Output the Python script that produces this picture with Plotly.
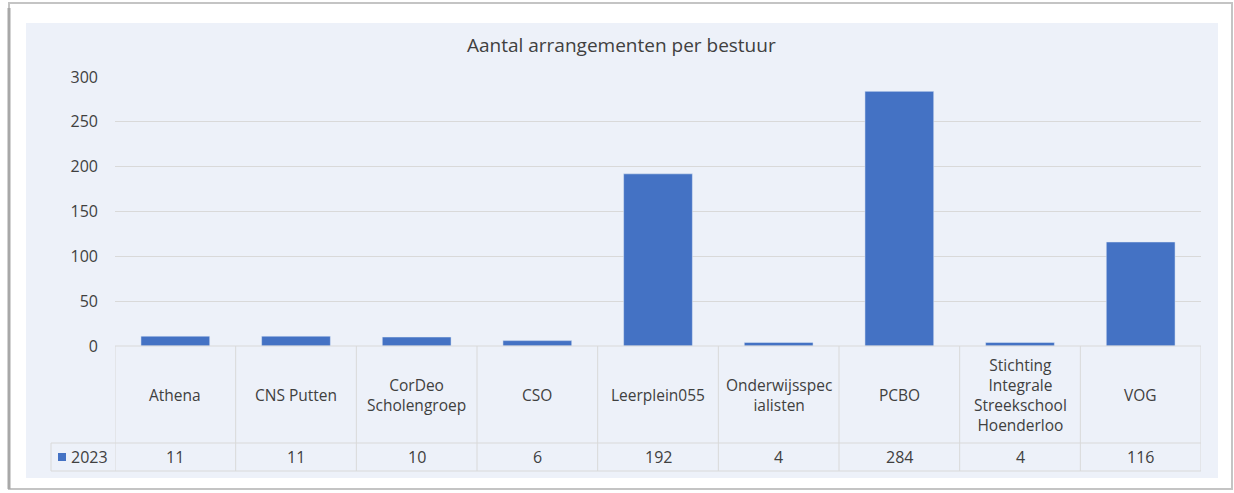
import plotly.graph_objects as go

categories = ["Athena", "CNS Putten", "CorDeo Scholengroep", "CSO", "Leerplein055",
              "Onderwijsspecialisten", "PCBO", "Stichting Integrale Streekschool Hoenderloo", "VOG"]
cat_labels = ["Athena", "CNS Putten", "CorDeo<br>Scholengroep", "CSO", "Leerplein055",
              "Onderwijsspec<br>ialisten", "PCBO", "Stichting<br>Integrale<br>Streekschool<br>Hoenderloo", "VOG"]
values_2023 = [11, 11, 10, 6, 192, 4, 284, 4, 116]
series_name = "2023"
y_ticks = [0, 50, 100, 150, 200, 250, 300]

W, H = 1234, 493
L, R, T, B = 115, 33, 77, 147
PW, PH = W - L - R, H - T - B

def px(x):
    return (x - L) / PW

def py(y):
    return (H - B - y) / PH

BLUE = "#4472C4"
GRID = "#D9D9D9"
TXT = "#404040"
FONT = "Open Sans"

fig = go.Figure()
fig.add_trace(go.Bar(x=categories, y=values_2023, marker_color=BLUE, width=0.57,
                     name=series_name, showlegend=False))

shapes = []
# outer frame / shadow
shapes.append(dict(type="rect", xref="paper", yref="paper", x0=px(9), x1=px(1232), y0=py(489), y1=py(3),
                   line=dict(color="#C4C4C4", width=2), fillcolor="white", layer="below"))
shapes.append(dict(type="line", xref="paper", yref="paper", x0=px(9), x1=px(9), y0=py(489), y1=py(8),
                   line=dict(color="#A8A8A8", width=3), layer="below"))
# panel
shapes.append(dict(type="rect", xref="paper", yref="paper", x0=px(26), x1=px(1218), y0=py(478), y1=py(23),
                   line=dict(width=0), fillcolor="#EDF1F9", layer="below"))

row1_bottom = py(443)
row2_bottom = py(471)
legend_left = px(51)
n = len(categories)
# vertical table lines
for i in range(n + 1):
    shapes.append(dict(type="line", xref="x", yref="paper", x0=i - 0.5, x1=i - 0.5, y0=0, y1=row2_bottom,
                       line=dict(color=GRID, width=1)))
# horizontal table lines
shapes.append(dict(type="line", xref="x", yref="paper", x0=-0.5, x1=n - 0.5, y0=0, y1=0,
                   line=dict(color=GRID, width=1)))
for yy in (row1_bottom, row2_bottom):
    shapes.append(dict(type="line", xref="paper", yref="paper", x0=legend_left, x1=1, y0=yy, y1=yy,
                       line=dict(color=GRID, width=1)))
shapes.append(dict(type="line", xref="paper", yref="paper", x0=legend_left, x1=legend_left,
                   y0=row1_bottom, y1=row2_bottom, line=dict(color=GRID, width=1)))
# legend key square
shapes.append(dict(type="rect", xref="paper", yref="paper", x0=px(58), x1=px(66), y0=py(461), y1=py(453),
                   line=dict(width=0), fillcolor=BLUE))

annotations = []
row1_mid = (0 + row1_bottom) / 2
row2_mid = (row1_bottom + row2_bottom) / 2
for c, lab, v in zip(categories, cat_labels, values_2023):
    annotations.append(dict(x=c, y=row1_mid, xref="x", yref="paper", text=lab, showarrow=False,
                            xanchor="center", yanchor="middle",
                            font=dict(family=FONT, size=15.5, color=TXT), align="center"))
    annotations.append(dict(x=c, y=row2_mid, xref="x", yref="paper", text=str(v), showarrow=False,
                            xanchor="center", yanchor="middle",
                            font=dict(family=FONT, size=16, color=TXT)))
annotations.append(dict(x=px(69), y=row2_mid, xref="paper", yref="paper", text=series_name, showarrow=False,
                        xanchor="left", yanchor="middle", font=dict(family=FONT, size=16, color=TXT)))
annotations.append(dict(x=px(621), y=py(45), xref="paper", yref="paper", text="Aantal arrangementen per bestuur",
                        showarrow=False, xanchor="center", yanchor="middle",
                        font=dict(family=FONT, size=19, color=TXT)))

fig.update_layout(
    width=W, height=H,
    margin=dict(l=L, r=R, t=T, b=B),
    paper_bgcolor="white",
    plot_bgcolor="rgba(0,0,0,0)",
    shapes=shapes,
    annotations=annotations,
    showlegend=False,
    xaxis=dict(type="category", range=[-0.5, n - 0.5], showticklabels=False, showgrid=False,
               zeroline=False, showline=False, ticks=""),
    yaxis=dict(range=[0, 300], tickvals=y_ticks, showgrid=True, gridcolor=GRID, gridwidth=1,
               zeroline=False, showline=False, ticks="", ticklabelstandoff=16,
               tickfont=dict(family=FONT, size=16, color=TXT)),
    bargap=0.43,
)

fig.write_html("out.html", config={"displayModeBar": False},
               post_script="document.body.style.margin='0px';")
